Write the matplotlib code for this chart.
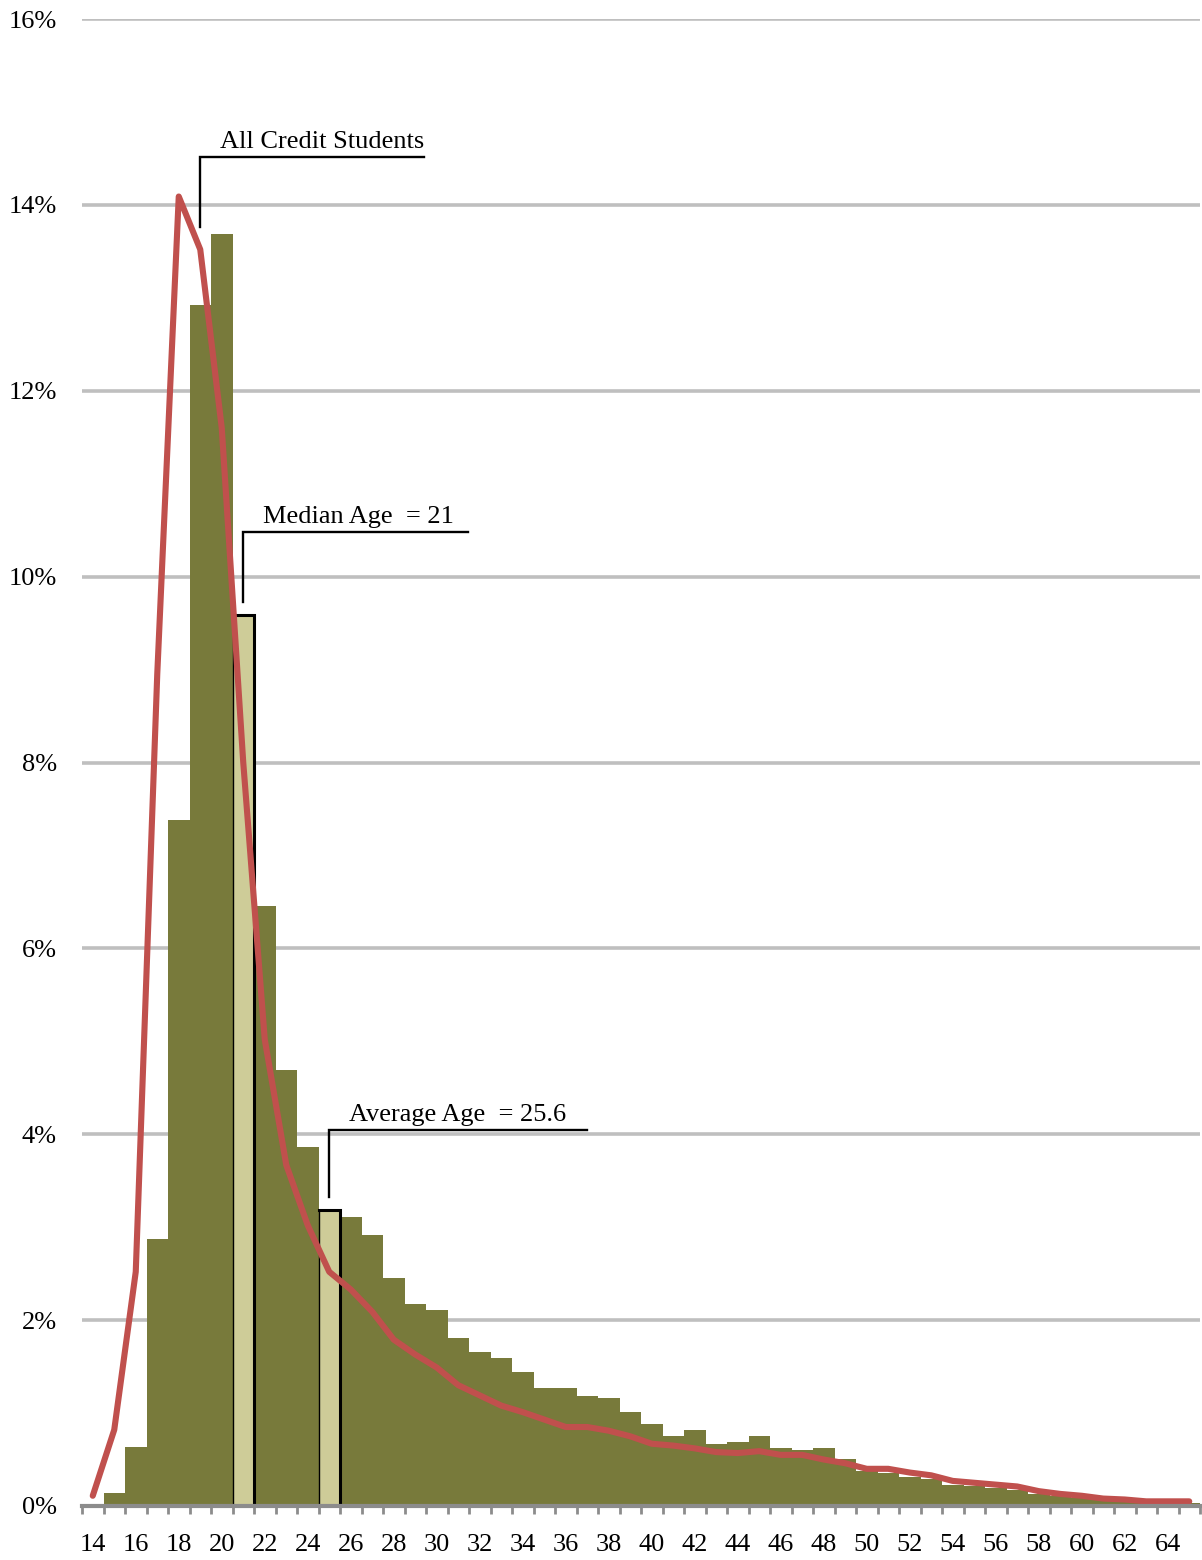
import matplotlib.pyplot as plt
import numpy as np
from matplotlib.ticker import FixedLocator, FuncFormatter

plt.rcParams['font.family'] = ['Liberation Serif', 'DejaVu Serif']

# ages 14..65
ages = list(range(14, 66))

# share of students at each age (bars), percent
bar_pct = [0.02, 0.14, 0.64, 2.87, 7.38, 12.92, 13.69, 9.59, 6.46, 4.69,
           3.86, 3.19, 3.11, 2.92, 2.45, 2.17, 2.11, 1.81, 1.66, 1.59,
           1.44, 1.27, 1.27, 1.18, 1.16, 1.01, 0.88, 0.75, 0.82, 0.67,
           0.69, 0.75, 0.62, 0.60, 0.62, 0.51, 0.38, 0.36, 0.31, 0.29,
           0.23, 0.21, 0.19, 0.17, 0.13, 0.11, 0.09, 0.07, 0.06, 0.05,
           0.04, 0.03]

# all credit students (line), percent
line_pct = [0.11, 0.82, 2.52, 8.95, 14.09, 13.52, 11.6, 8.0, 5.02, 3.67,
            3.02, 2.52, 2.33, 2.09, 1.79, 1.63, 1.49, 1.30, 1.19, 1.08,
            1.01, 0.93, 0.85, 0.85, 0.81, 0.75, 0.67, 0.65, 0.62, 0.58,
            0.57, 0.59, 0.55, 0.55, 0.50, 0.46, 0.40, 0.40, 0.36, 0.33,
            0.27, 0.25, 0.23, 0.21, 0.16, 0.13, 0.11, 0.08, 0.07, 0.05,
            0.05, 0.05]

highlight_ages = [21, 25]
median_label = "Median Age  = 21"
average_label = "Average Age  = 25.6"

olive = '#787A3B'
khaki = '#CECC98'
red = '#C0504D'

fig = plt.figure(figsize=(12.02, 15.6), dpi=100)
ax = fig.add_axes([82 / 1202, 1 - 1506 / 1560, (1200 - 82) / 1202, (1506 - 19) / 1560])

# gridlines
for g in range(2, 17, 2):
    ax.axhline(g, color='#BFBFBF', lw=2.6, zorder=0)

colors = [khaki if a in highlight_ages else olive for a in ages]
ax.bar(ages, bar_pct, width=1.0, color=colors, linewidth=0, zorder=2)
for a in highlight_ages:
    i = ages.index(a)
    # thin left edge, heavy top and right edge
    ax.bar(a, bar_pct[i], width=1.0, color=khaki, edgecolor='black',
           linewidth=1.0, zorder=3)
    ax.plot([a - 0.5, a + 0.5, a + 0.5], [bar_pct[i], bar_pct[i], 0],
            color='black', lw=2.2, zorder=3, solid_joinstyle='miter')

ax.plot(ages, line_pct, color=red, lw=4.4, solid_capstyle='round',
        solid_joinstyle='round', zorder=4)

# leader lines and labels
def callout(x, y0, y1, x_end, text, tx, ty):
    ax.plot([x, x, x_end], [y0, y1, y1], color='black', lw=1.7, zorder=5,
            solid_joinstyle='miter')
    ax.text(tx, ty, text, fontsize=19, ha='left', va='bottom', zorder=5)

callout(19, 13.76, 14.52, 29.4, "All Credit Students", 19.9, 14.56)
callout(21, 9.73, 10.48, 31.45, median_label, 21.9, 10.52)
callout(25, 3.32, 4.05, 37.0, average_label, 25.9, 4.09)

ax.set_xlim(13.5, 65.5)
ax.set_ylim(0, 16)

for s in ['top', 'right', 'left']:
    ax.spines[s].set_visible(False)
ax.spines['bottom'].set_color('#8C8C8C')
ax.spines['bottom'].set_linewidth(3)
ax.spines['bottom'].set_zorder(6)

ax.set_yticks(range(0, 17, 2))
ax.yaxis.set_major_formatter(FuncFormatter(lambda v, p: f"{int(v)}%"))
ax.tick_params(axis='y', length=0, pad=18, labelsize=19)

ax.xaxis.set_major_locator(FixedLocator(np.arange(13.5, 66, 1.0)))
ax.xaxis.set_major_formatter(FuncFormatter(lambda v, p: ""))
ax.xaxis.set_minor_locator(FixedLocator(range(14, 66, 2)))
ax.xaxis.set_minor_formatter(FuncFormatter(lambda v, p: f"{int(v)}"))
ax.tick_params(axis='x', which='major', length=6, width=2, color='#8C8C8C')
ax.tick_params(axis='x', which='minor', length=0, pad=20, labelsize=19)

fig.savefig('out.png', dpi=100, facecolor='white')
